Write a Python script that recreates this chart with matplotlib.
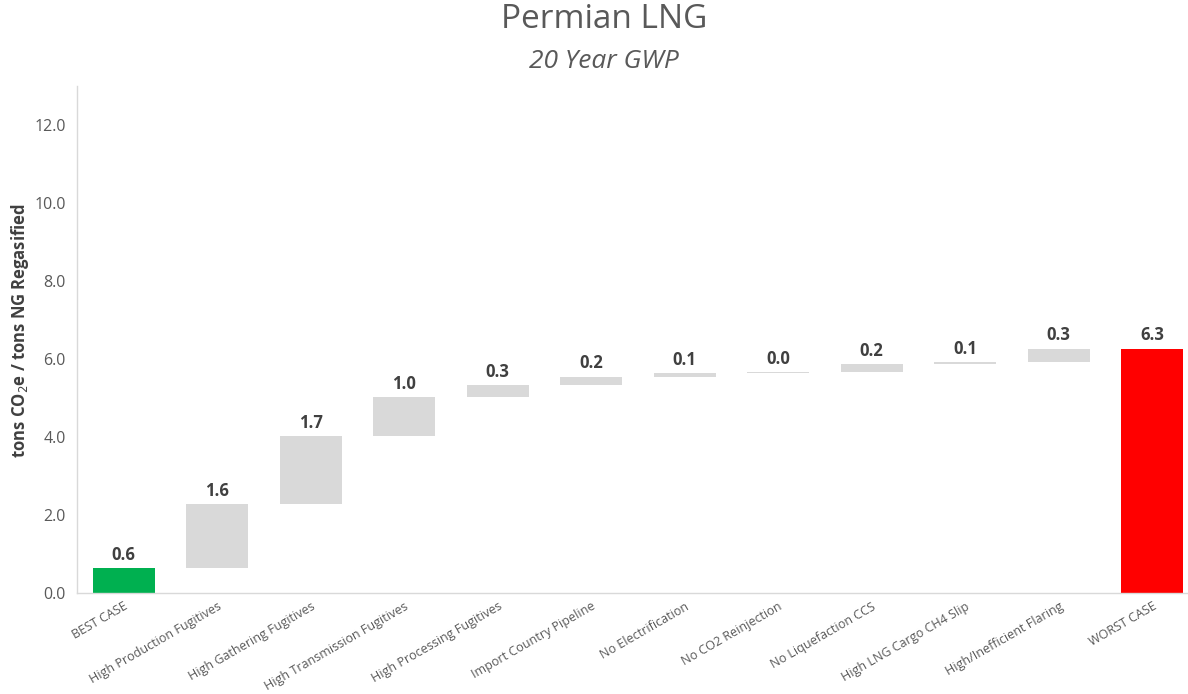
import matplotlib
matplotlib.use("Agg")
import matplotlib.pyplot as plt
import numpy as np

# Waterfall data: tons CO2e per ton of regasified natural gas (20-year GWP)
categories = [
    "BEST CASE",
    "High Production Fugitives",
    "High Gathering Fugitives",
    "High Transmission Fugitives",
    "High Processing Fugitives",
    "Import Country Pipeline",
    "No Electrification",
    "No CO2 Reinjection",
    "No Liquefaction CCS",
    "High LNG Cargo CH4 Slip",
    "High/Inefficient Flaring",
    "WORST CASE",
]
best_case = 0.64
increments = [1.649, 1.74, 1.00, 0.31, 0.21, 0.10, 0.02, 0.19, 0.07, 0.34]
y_ticks = [0, 2, 4, 6, 8, 10, 12]

GREEN = "#00B050"
RED = "#FF0000"
GREY = "#D9D9D9"
TEXT = "#595959"
LABEL = "#404040"

plt.rcParams["font.family"] = ["Open Sans", "DejaVu Sans"]

worst_case = best_case + sum(increments)
heights = [best_case] + increments + [worst_case]
bottoms = [0.0] + list(best_case + np.cumsum([0] + increments[:-1])) + [0.0]
colors = [GREEN] + [GREY] * len(increments) + [RED]

W, H = 1188, 694
fig = plt.figure(figsize=(W / 100, H / 100), dpi=100)
ax = fig.add_axes([77 / W, (H - 593) / H, (1199 - 77) / W, 507 / H])

x = np.arange(len(categories))
ax.bar(x, heights, bottom=bottoms, width=0.66, color=colors, linewidth=0, zorder=2)

for xi, b, h in zip(x, bottoms, heights):
    ax.annotate(f"{h:.1f}", xy=(xi, b + h), xytext=(0, 3), textcoords="offset points",
                ha="center", va="bottom", fontsize=12, fontweight="bold", color=LABEL)

ax.set_xlim(-0.5, len(categories) - 0.5)
ax.set_ylim(0, 13)
ax.set_yticks(y_ticks)
ax.set_yticklabels([f"{t:.1f}" for t in y_ticks])
ax.set_xticks(x)
ax.set_xticklabels(categories, rotation=30, ha="right", rotation_mode="anchor")

ax.tick_params(axis="y", length=0, pad=8, labelsize=11.5, labelcolor=TEXT)
ax.tick_params(axis="x", length=0, pad=5, labelsize=9, labelcolor=TEXT)

for side in ("top", "right"):
    ax.spines[side].set_visible(False)
for side in ("left", "bottom"):
    ax.spines[side].set_color(GREY)
    ax.spines[side].set_linewidth(1)

ax.set_ylabel("tons CO$_2$e / tons NG Regasified", fontsize=12, fontweight="bold",
              color=LABEL)
ax.yaxis.set_label_coords(-(77 - 31) / (1199 - 77), (593 - 331) / 507)

fig.text(604 / W, 1 - 20 / H, "Permian LNG", ha="center", va="center",
         fontsize=24, color=TEXT)
fig.text(604 / W, 1 - 61 / H, "20 Year GWP", ha="center", va="center",
         fontsize=19, style="italic", color=TEXT)

fig.savefig("out.png", dpi=100)
